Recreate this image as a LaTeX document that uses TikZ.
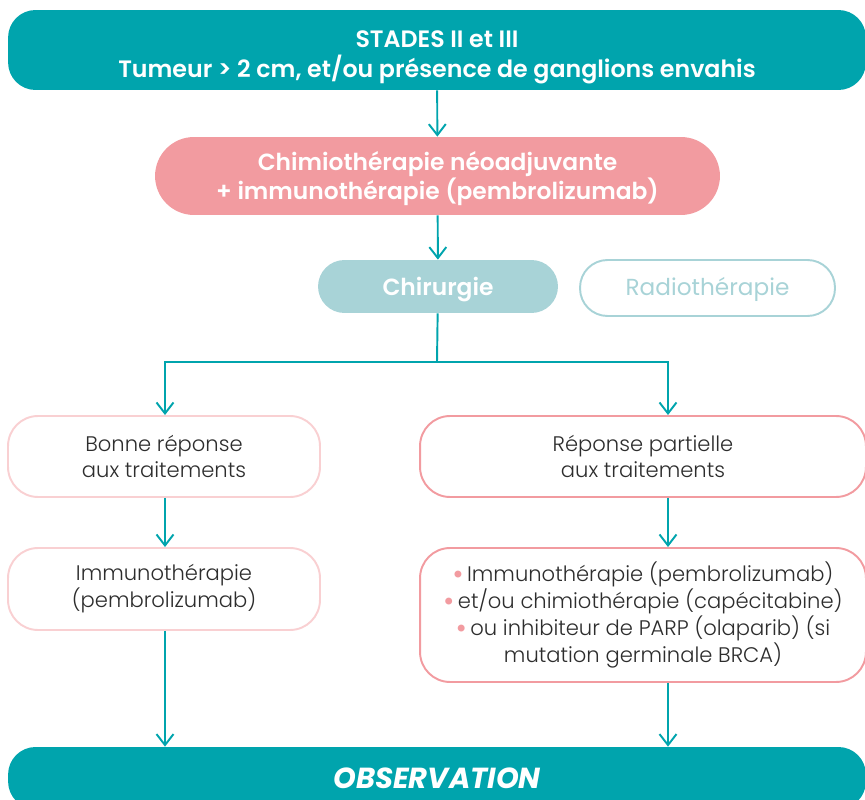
\documentclass[tikz,border=0pt]{standalone}
\usepackage{fontspec}
\setmainfont{Poppins}
\newfontfamily\lightfont{Poppins Light}
\newfontfamily\semifont{Poppins SemiBold}
\usetikzlibrary{arrows.meta,positioning}
\definecolor{stadeteal}{RGB}{0,164,173}
\definecolor{chimiopink}{RGB}{242,155,160}
\definecolor{chirteal}{RGB}{168,211,215}
\definecolor{palepink}{RGB}{249,208,210}
\definecolor{textgrey}{RGB}{45,45,45}
\newcommand{\puce}{\raisebox{-1.5pt}[0pt][0pt]{\textcolor{chimiopink}{\fontsize{17}{17}\selectfont•}}\,}
\newcommand{\descend}[2]{\raisebox{-#1}[\height][\depth]{#2}}
\renewcommand{\arraystretch}{0.93}

\begin{document}
\begin{tikzpicture}[x=0.02cm, y=-0.02cm,
  every node/.style={rectangle, align=center, inner sep=0pt},
  bande/.style={fill=stadeteal, text=white, rounded corners=0.55cm, minimum width=17.16cm},
  etape/.style={text=white, font=\semifont\fontsize{13.3}{15.5}\selectfont},
  reponse/.style={fill=white, line width=1.1pt, rounded corners=0.6cm, text=textgrey,
    font=\lightfont\fontsize{12}{15.3}\selectfont},
  fleche/.style={draw=stadeteal, line width=1.1pt, -{Straight Barb[length=2.2mm, width=3.4mm]}}]

\useasboundingbox (0,0) rectangle (865,800);
\clip (0,0) rectangle (865,800);

\node[bande, minimum height=1.6cm, font=\semifont\fontsize{13.5}{15.3}\selectfont] (stades) at (437,50)
  {\descend{4pt}{\begin{tabular}{@{}c@{}}STADES II et III\\Tumeur > 2 cm, et/ou présence de ganglions envahis\end{tabular}}};

\node[etape, fill=chimiopink, rounded corners=0.78cm, minimum width=11.3cm, minimum height=1.56cm] (chimio) at (437.5,176)
  {\descend{2pt}{\begin{tabular}{@{}c@{}}Chimiothérapie néoadjuvante\\+ immunothérapie (pembrolizumab)\end{tabular}}};

\node[etape, fill=chirteal, rounded corners=0.53cm, minimum width=4.8cm, minimum height=1.06cm] (chir) at (438,286.5)
  {\descend{2pt}{Chirurgie}};

\node[draw=chirteal, line width=1.1pt, rounded corners=0.55cm, minimum width=5.1cm, minimum height=1.12cm,
  text=chirteal, font=\fontsize{13.2}{15.5}\selectfont] (radio) at (707.5,288) {\descend{1pt}{Radiothérapie}};

\node[reponse, draw=palepink, minimum width=6.24cm, minimum height=1.62cm] (bonne) at (164,456.5)
  {Bonne réponse\\aux traitements};

\node[reponse, draw=chimiopink, minimum width=8.92cm, minimum height=1.62cm] (partielle) at (643,456.5)
  {Réponse partielle\\aux traitements};

\node[reponse, draw=palepink, minimum width=6.24cm, minimum height=1.64cm] (immuno) at (164,589)
  {Immunothérapie\\(pembrolizumab)};

\node[reponse, draw=chimiopink, minimum width=8.92cm, minimum height=2.68cm] (liste) at (643,615)
  {\puce Immunothérapie (pembrolizumab)\\
   \puce et/ou chimiothérapie (capécitabine)\\
   \puce ou inhibiteur de PARP (olaparib) (si\\
   mutation germinale BRCA)};

\node[bande, minimum height=1.24cm, font=\bfseries\itshape\fontsize{16.5}{18}\selectfont] (observation) at (437,778) {OBSERVATION};

\coordinate (fourche) at (437,362);
\coordinate (dG) at (165,362);
\coordinate (dD) at (668,362);

\draw[fleche] (stades) -- (chimio);
\draw[fleche] (chimio) -- (chir);
\draw[stadeteal, line width=1.1pt] (chir) -- (fourche);
\draw[fleche] (fourche) -- (dG) -- (bonne.north -| dG);
\draw[fleche] (fourche) -- (dD) -- (partielle.north -| dD);
\draw[fleche] (bonne.south -| dG) -- (immuno.north -| dG);
\draw[fleche] (partielle.south -| dD) -- (liste.north -| dD);
\draw[fleche] (immuno.south -| dG) -- (observation.north -| dG);
\draw[fleche] (liste.south -| dD) -- (observation.north -| dD);

\end{tikzpicture}
\end{document}
